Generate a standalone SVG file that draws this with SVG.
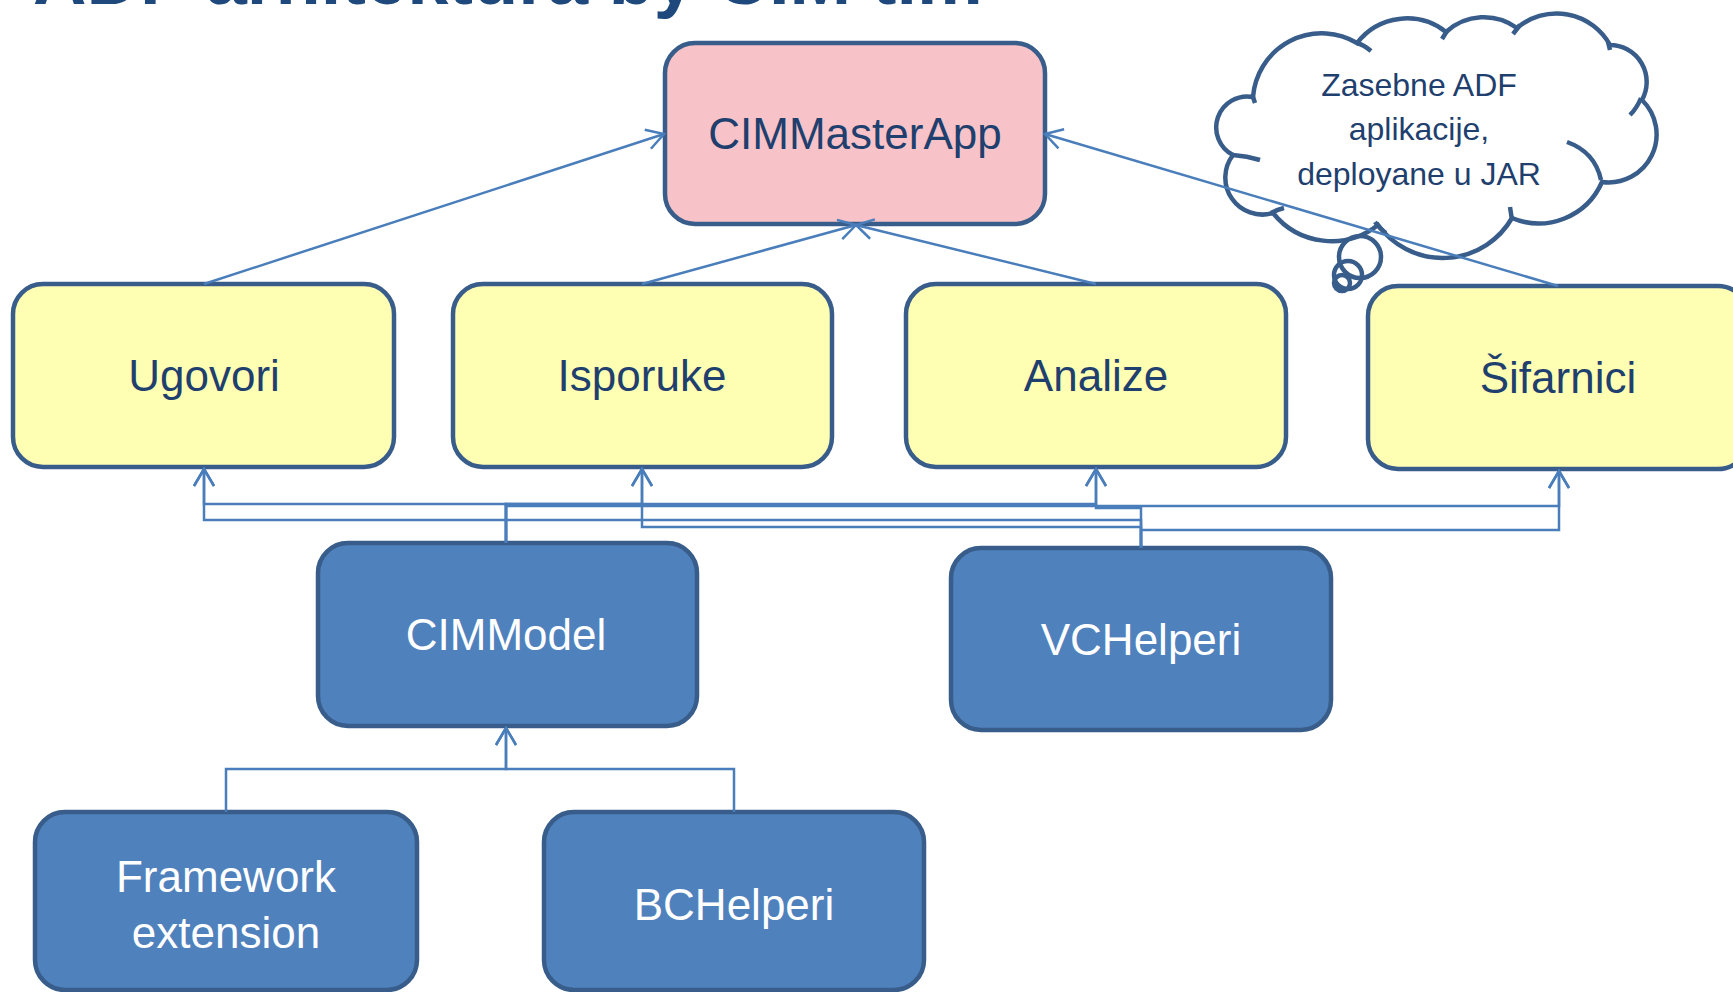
<svg xmlns="http://www.w3.org/2000/svg" width="1733" height="992" viewBox="0 0 1733 992">
<style>
.box{stroke:#385D8A;stroke-width:4.5}
.blue{fill:#4F81BD}
.yel{fill:#FFFFB4}
.pink{fill:#F7C3C8}
.t{font-family:"Liberation Sans",Arial,sans-serif;text-anchor:middle;font-size:44px}
.ct{font-size:32px}
.dk{fill:#1F3F6E}
.wh{fill:#FFFFFF}
.con{fill:none;stroke:#4A7EBB;stroke-width:2.5}
.arr{marker-end:url(#ah)}
.cl{fill:#FFFFFF;stroke:#385D8A;stroke-width:4.5}
.st{fill:none;stroke:#385D8A;stroke-width:4.5}
</style>
<defs>
<marker id="ah" markerUnits="userSpaceOnUse" markerWidth="24" markerHeight="26" viewBox="-20 -13 24 26" refX="0" refY="0" orient="auto">
<path d="M-17 -10 L0 0 L-17 10" fill="none" stroke="#4A7EBB" stroke-width="2.5"/>
</marker>
</defs>
<rect width="1733" height="992" fill="#FFFFFF"/>
<text x="33" y="4" font-family="Liberation Sans,Arial,sans-serif" font-weight="bold" font-size="74" fill="#1F497D">ADF arhitektura by CIM tim</text>

<g id="CIMMasterApp"><rect class="box pink" x="665" y="43" width="380" height="181" rx="30"/><text class="t dk" x="855" y="149">CIMMasterApp</text></g>
<g id="Ugovori"><rect class="box yel" x="13" y="284" width="381" height="183" rx="30"/><text class="t dk" x="204" y="391">Ugovori</text></g>
<g id="Isporuke"><rect class="box yel" x="453" y="284" width="379" height="183" rx="30"/><text class="t dk" x="642" y="391">Isporuke</text></g>
<g id="Analize"><rect class="box yel" x="906" y="284" width="380" height="183" rx="30"/><text class="t dk" x="1096" y="391">Analize</text></g>
<g id="Sifarnici"><rect class="box yel" x="1368" y="286" width="380" height="183" rx="30"/><text class="t dk" x="1558" y="393">Šifarnici</text></g>
<g id="CIMModel"><rect class="box blue" x="318" y="543" width="379" height="183" rx="30"/><text class="t wh" x="506" y="650">CIMModel</text></g>
<g id="VCHelperi"><rect class="box blue" x="951" y="548" width="380" height="182" rx="30"/><text class="t wh" x="1141" y="655">VCHelperi</text></g>
<g id="FrameworkExtension"><rect class="box blue" x="35" y="812" width="382" height="178" rx="30"/><text class="t wh" x="226" y="892">Framework</text><text class="t wh" x="226" y="948">extension</text></g>
<g id="BCHelperi"><rect class="box blue" x="544" y="812" width="380" height="178" rx="30"/><text class="t wh" x="734" y="920">BCHelperi</text></g>

<g id="cloud">
<path class="cl" d="M1253 97 A69 69 0 0 1 1357 43 A63 63 0 0 1 1446 32 A56 56 0 0 1 1517 28 A61 61 0 0 1 1610 45 A37 37 0 0 1 1642 100 A48 48 0 0 1 1602 182 A69 69 0 0 1 1512 218 A80 80 0 0 1 1378 225 A75 75 0 0 1 1273 213 A37 37 0 0 1 1233 155 A31 31 0 0 1 1253 97 Z"/>
<path class="st" d="M1252 94 L1255 103 M1357 43 Q1364 45 1371 51 M1447 31 L1442 39 M1520 25 L1513 34 M1608 42 L1610 50 M1641 98 Q1637 108 1630 115 M1567 142 Q1595 152 1601 180 M1510 207 L1512 220 M1375 222 Q1380 229 1386 233 M1271 213 Q1276 210 1284 208 M1233 155 Q1247 156 1260 160"/>
<circle class="st" cx="1360" cy="257" r="21"/>
<circle class="st" cx="1348" cy="275" r="14"/>
<circle class="st" cx="1342" cy="283" r="8"/>
<text class="t ct dk" x="1419" y="96">Zasebne ADF</text>
<text class="t ct dk" x="1419" y="140">aplikacije,</text>
<text class="t ct dk" x="1419" y="185">deployane u JAR</text>
</g>

<g id="connectors">
<path class="con arr" d="M204 284 L664 134"/>
<path class="con arr" d="M642 284 L856 225"/>
<path class="con arr" d="M1096 284 L856 225"/>
<path class="con arr" d="M1558 286 L1045 134"/>
<path class="con arr" d="M506 543 V504 H204 V469"/>
<path class="con arr" d="M506 543 V504 H642 V469"/>
<path class="con arr" d="M506 543 V504 H1096 V469"/>
<path class="con arr" d="M506 543 V506 H1559 V471"/>
<path class="con arr" d="M1141 548 V520 H204 V469"/>
<path class="con arr" d="M1141 548 V527 H642 V469"/>
<path class="con arr" d="M1141 548 V508 H1096 V469"/>
<path class="con arr" d="M1141 548 V530 H1559 V471"/>
<path class="con arr" d="M226 812 V769 H506 V728"/>
<path class="con arr" d="M734 812 V769 H506 V728"/>
</g>
</svg>
